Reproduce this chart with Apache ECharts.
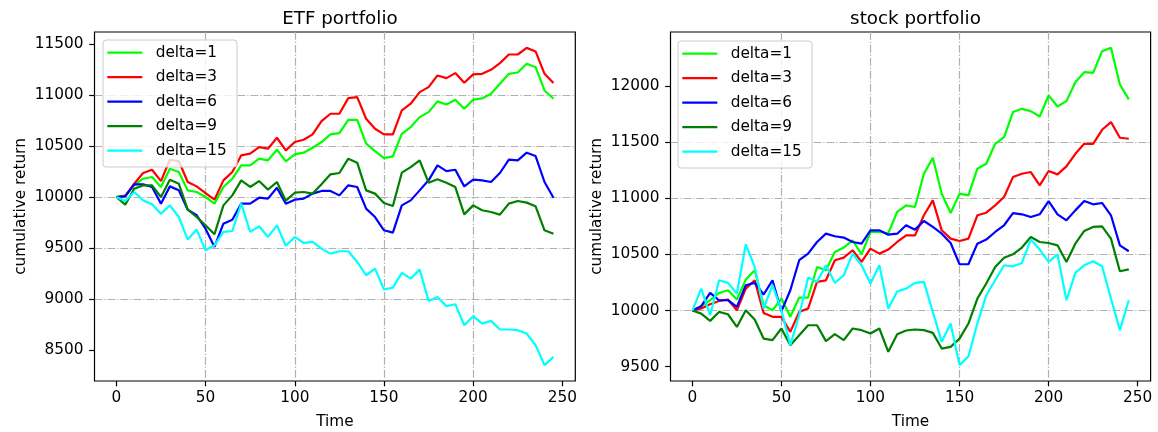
<!DOCTYPE html>
<html>
<head>
<meta charset="utf-8">
<script src="https://cdn.jsdelivr.net/npm/echarts@6/dist/echarts.min.js"></script>
<style>
html,body{margin:0;padding:0;background:#fff;}
#chart{width:1158px;height:432px;}
</style>
</head>
<body>
<div id="chart"></div>
<script>
const times = [0,5,10,15,20,25,30,35,40,45,50,55,60,65,70,75,80,85,90,95,100,105,110,115,120,125,130,135,140,145,150,155,160,165,170,175,180,185,190,195,200,205,210,215,220,225,230,235,240,245];
const xTickValues = [0,50,100,150,200,250];
const etfYTicks = [8500,9000,9500,10000,10500,11000,11500];
const stockYTicks = [9500,10000,10500,11000,11500,12000];
const seriesNames = ['delta=1','delta=3','delta=6','delta=9','delta=15'];
const seriesColors = ['#00ff00','#ff0000','#0000ff','#008000','#00ffff'];

// ETF portfolio
const etfDelta1 = [10000,10016,10114,10179,10196,10098,10277,10245,10065,10049,10000,9935,10098,10179,10310,10310,10375,10359,10463,10349,10417,10434,10482,10538,10613,10626,10756,10756,10522,10450,10381,10398,10619,10685,10782,10831,10936,10906,10952,10864,10952,10965,11011,11108,11206,11219,11304,11271,11043,10962];
const etfDelta3 = [10000,10010,10130,10235,10267,10156,10365,10352,10147,10104,10039,9974,10163,10245,10408,10424,10489,10473,10580,10456,10538,10561,10613,10743,10815,10815,10968,10978,10766,10668,10613,10613,10848,10913,11027,11076,11190,11164,11213,11118,11200,11206,11245,11311,11395,11395,11460,11425,11206,11115];
const etfDelta6 = [10000,10007,10124,10124,10098,9935,10104,10065,9876,9821,9690,9511,9739,9778,9935,9935,9993,9984,10091,9935,9974,9984,10033,10059,10059,10016,10114,10098,9886,9804,9674,9651,9918,9967,10065,10163,10310,10254,10267,10104,10170,10163,10147,10235,10365,10359,10434,10401,10147,9993];
const etfDelta9 = [10000,9925,10081,10114,10114,10000,10170,10130,9876,9804,9723,9635,9918,10016,10163,10098,10156,10072,10147,9964,10042,10049,10033,10124,10222,10235,10375,10336,10065,10033,9941,9912,10238,10293,10359,10140,10173,10140,10097,9830,9918,9870,9853,9827,9935,9961,9945,9909,9674,9641];
const etfDelta15 = [10000,9961,10049,9967,9928,9837,9918,9804,9583,9681,9478,9527,9658,9667,9935,9658,9713,9609,9723,9522,9609,9550,9560,9495,9446,9469,9469,9364,9234,9299,9094,9113,9257,9201,9289,8983,9022,8931,8950,8745,8833,8761,8787,8703,8703,8696,8663,8549,8354,8435];

// stock portfolio
const stockDelta1 = [10000,10039,10092,10157,10181,10098,10276,10359,10048,10003,10107,9944,10116,10116,10389,10359,10523,10562,10627,10502,10701,10701,10690,10880,10939,10924,11221,11364,11043,10870,11043,11028,11266,11310,11488,11548,11771,11800,11780,11732,11919,11821,11869,12038,12127,12121,12314,12344,12017,11884];
const stockDelta3 = [10000,10018,10056,10086,10098,10003,10196,10270,9979,9944,9944,9810,9988,10018,10256,10270,10449,10472,10538,10434,10553,10508,10544,10612,10671,10671,10850,10983,10716,10642,10621,10642,10850,10873,10939,11013,11191,11221,11236,11117,11245,11215,11286,11399,11488,11488,11613,11682,11542,11533];
const stockDelta6 = [10000,10039,10157,10092,10092,10033,10226,10247,10143,10270,9994,10181,10449,10508,10612,10686,10663,10651,10612,10597,10716,10716,10677,10686,10761,10722,10799,10746,10686,10603,10413,10413,10597,10633,10701,10761,10870,10859,10835,10859,10977,10859,10805,10894,10977,10948,10960,10850,10582,10529];
const stockDelta9 = [10000,9973,9908,9988,9967,9854,10003,9920,9750,9736,9840,9691,9780,9869,9869,9727,9789,9736,9840,9825,9795,9840,9632,9789,9822,9831,9825,9801,9661,9676,9750,9884,10107,10241,10389,10472,10502,10562,10657,10612,10603,10582,10434,10597,10710,10746,10752,10642,10351,10368];
const stockDelta15 = [10000,10196,9958,10270,10247,10152,10591,10389,10018,10226,10003,9691,9958,10294,10256,10404,10247,10315,10508,10404,10241,10404,10018,10170,10196,10247,10256,9988,9721,9884,9513,9593,9884,10137,10270,10404,10395,10425,10633,10544,10434,10502,10092,10336,10404,10440,10395,10107,9825,10092];

const etfSeries = [etfDelta1, etfDelta3, etfDelta6, etfDelta9, etfDelta15];
const stockSeries = [stockDelta1, stockDelta3, stockDelta6, stockDelta9, stockDelta15];

function paddedRange(list) {
  let lo = Infinity, hi = -Infinity;
  list.forEach(a => a.forEach(v => { lo = Math.min(lo, v); hi = Math.max(hi, v); }));
  const m = (hi - lo) * 0.05;
  return [lo - m, hi + m];
}
const etfRange = paddedRange(etfSeries);
const stockRange = paddedRange(stockSeries);
const xMin = times[0] - (times[times.length-1] - times[0]) * 0.05;
const xMax = times[times.length-1] + (times[times.length-1] - times[0]) * 0.05;

const FONT = 'DejaVu Sans';
const gridDash = [7.8, 2, 1.2, 2];
const plain = v => String(Math.round(v));

function xAxisCfg(gi) {
  return {
    type: 'value', gridIndex: gi, min: xMin, max: xMax,
    minInterval: 50, maxInterval: 50,
    name: 'Time', nameLocation: 'middle', nameGap: 34,
    nameTextStyle: {fontFamily: FONT, fontSize: 15.3, color: '#000'},
    axisLine: {show: false, onZero: false},
    axisTick: {show: true, length: 5.3, inside: false, customValues: xTickValues, lineStyle: {color: '#000', width: 1.2}},
    axisLabel: {fontFamily: FONT, fontSize: 15.3, color: '#000', margin: 10, customValues: xTickValues, formatter: plain},
    splitLine: {show: true, showMinLine: false, showMaxLine: false, lineStyle: {color: '#b0b0b0', width: 1.2, type: gridDash}}
  };
}
function yAxisCfg(gi, range, ticks) {
  return {
    type: 'value', gridIndex: gi, min: range[0], max: range[1],
    minInterval: 500, maxInterval: 500,
    name: 'cumulative return', nameLocation: 'middle', nameGap: 66, nameRotate: 90,
    nameTextStyle: {fontFamily: FONT, fontSize: 15.3, color: '#000'},
    axisLine: {show: false, onZero: false},
    axisTick: {show: true, length: 5.3, inside: false, customValues: ticks, lineStyle: {color: '#000', width: 1.2}},
    axisLabel: {fontFamily: FONT, fontSize: 15.3, color: '#000', margin: 11, customValues: ticks, formatter: plain},
    splitLine: {show: true, showMinLine: false, showMaxLine: false, lineStyle: {color: '#b0b0b0', width: 1.2, type: gridDash}}
  };
}
function legendCfg(left, top) {
  return {
    data: seriesNames, orient: 'vertical', left: left, top: top,
    backgroundColor: 'rgba(255,255,255,0.8)', borderColor: '#cccccc', borderWidth: 1, borderRadius: 3,
    padding: [5.2, 10.3, 8.8, 4.3], itemGap: 9.5, itemWidth: 35, itemHeight: 15,
    icon: 'path://M0,0L35,0L35,2.2L0,2.2Z',
    textStyle: {fontFamily: FONT, fontSize: 15.3, color: '#000', lineHeight: 15, padding: [0,0,0,8.4]},
    selectedMode: false
  };
}
const series = [];
[etfSeries, stockSeries].forEach((group, gi) => {
  group.forEach((arr, k) => {
    series.push({
      type: 'line', name: seriesNames[k], xAxisIndex: gi, yAxisIndex: gi,
      data: times.map((t, i) => [t, arr[i]]),
      symbol: 'none', showSymbol: false,
      lineStyle: {color: seriesColors[k], width: 2.2},
      itemStyle: {color: seriesColors[k]},
      emphasis: {disabled: true}, silent: true
    });
  });
});

const chart = echarts.init(document.getElementById('chart'), null, {renderer: 'canvas'});
chart.setOption({
  animation: false,
  backgroundColor: '#fff',
  title: [
    {text: 'ETF portfolio', left: 334.9, top: 5, textAlign: 'center', textStyle: {fontFamily: FONT, fontSize: 18.3, fontWeight: 'normal', color: '#000'}},
    {text: 'stock portfolio', left: 910.5, top: 5, textAlign: 'center', textStyle: {fontFamily: FONT, fontSize: 18.3, fontWeight: 'normal', color: '#000'}}
  ],
  legend: [legendCfg(103, 40), legendCfg(678, 41)],
  grid: [
    {left: 94.5, top: 32, width: 480.8, height: 349, show: true, borderColor: '#000', borderWidth: 1.2, backgroundColor: 'transparent', containLabel: false, outerBoundsMode: 'none'},
    {left: 670.5, top: 32, width: 480.1, height: 349, show: true, borderColor: '#000', borderWidth: 1.2, backgroundColor: 'transparent', containLabel: false, outerBoundsMode: 'none'}
  ],
  xAxis: [xAxisCfg(0), xAxisCfg(1)],
  yAxis: [yAxisCfg(0, etfRange, etfYTicks), yAxisCfg(1, stockRange, stockYTicks)],
  tooltip: {show: false},
  series: series
});
</script>
</body>
</html>
